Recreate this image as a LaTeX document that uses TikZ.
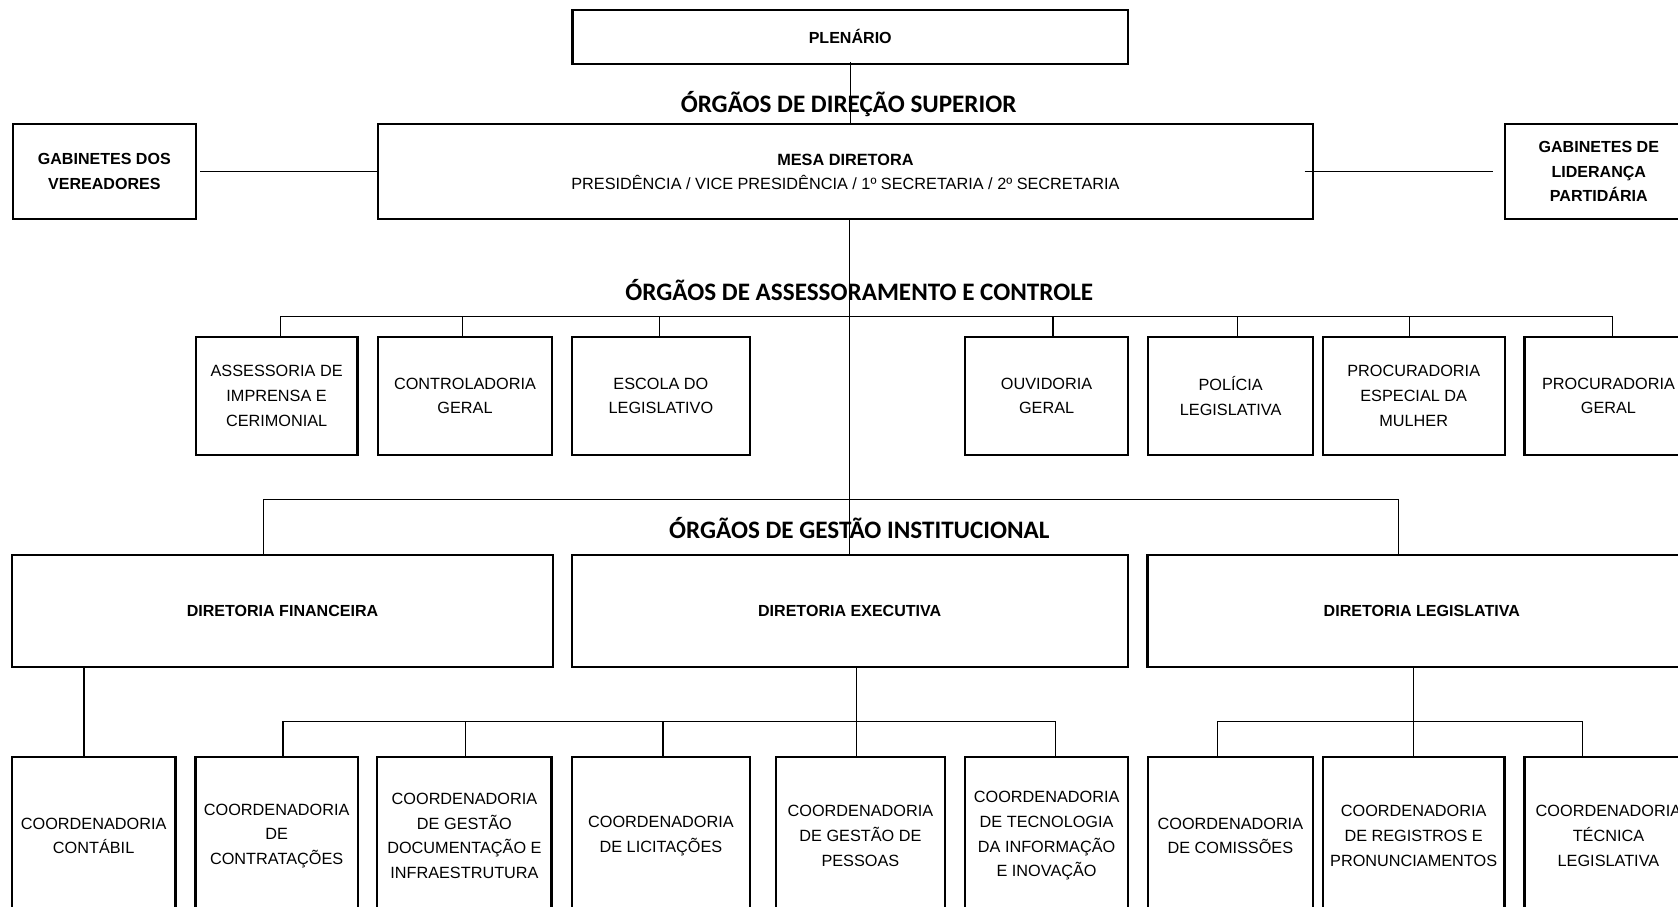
\documentclass[tikz,border=0pt]{standalone}
\usepackage{fontspec}
\setmainfont{Liberation Sans}
\newfontfamily\headfont{Carlito}

\begin{document}
\begin{tikzpicture}[x=1pt,y=-1pt,
    unit/.style={draw,line width=2pt,align=center,inner sep=0pt,font=\fontsize{15.2}{23}\selectfont},
    boss/.style={unit,font=\fontsize{15}{23}\selectfont\bfseries},
    conn/.style={line width=1.1pt},
    heading/.style={inner sep=0pt,font=\fontsize{23.5}{26}\selectfont\headfont\bfseries}]
    \useasboundingbox (0,0) rectangle (1568,847);
    \clip (0,0) rectangle (1568,847);

    % Top
    \node[boss,minimum width=519,minimum height=51] (plen) at (794.5,34.5) {PLEN\'ARIO};
    \node[heading] (hdir) at (793,97) {ÓRGÃOS DE DIREÇÃO SUPERIOR};
    \node[unit,minimum width=874,minimum height=89] (mesa) at (790,160.5)
        {{\bfseries MESA DIRETORA}\\PRESIDÊNCIA / VICE PRESIDÊNCIA / 1º SECRETARIA / 2º SECRETARIA};
    \node[boss,minimum width=171,minimum height=89] (gabv) at (97.5,160.5) {GABINETES DOS\\VEREADORES};
    \node[boss,minimum width=176,minimum height=89] (gabl) at (1494,160.5) {GABINETES DE\\LIDERANÇA\\PARTIDÁRIA};

    % Assessoramento
    \node[heading] (hass) at (803,271) {ÓRGÃOS DE ASSESSORAMENTO E CONTROLE};
    \node[unit,minimum width=151,minimum height=110] (asim) at (258.5,370) {ASSESSORIA DE\\IMPRENSA E\\CERIMONIAL};
    \node[unit,minimum width=163,minimum height=110] (ctrl) at (434.5,370) {CONTROLADORIA\\GERAL};
    \node[unit,minimum width=166,minimum height=110] (escola) at (617.6,370) {ESCOLA DO\\LEGISLATIVO};
    \node[unit,minimum width=152,minimum height=110] (ouvg) at (978,370) {OUVIDORIA\\GERAL};
    \node[unit,minimum width=154,minimum height=110] (policia) at (1150,370) {POLÍCIA\\LEGISLATIVA};
    \node[unit,minimum width=170,minimum height=110] (procm) at (1321,370) {PROCURADORIA\\ESPECIAL DA\\MULHER};
    \node[unit,minimum width=157,minimum height=110] (procg) at (1503,370) {PROCURADORIA\\GERAL};

    % Gestao institucional
    \node[heading] (hges) at (803,493) {ÓRGÃOS DE GESTÃO INSTITUCIONAL};
    \node[boss,minimum width=505.5,minimum height=104] (dfin) at (264,571) {DIRETORIA FINANCEIRA};
    \node[boss,minimum width=519.5,minimum height=104] (dexe) at (794,571) {DIRETORIA EXECUTIVA};
    \node[boss,minimum width=512.6,minimum height=104] (dleg) at (1328.6,571) {DIRETORIA LEGISLATIVA};

    % Coordenadorias
    \node[unit,minimum width=153,minimum height=148] (cont) at (87.5,781) {COORDENADORIA\\CONTÁBIL};
    \node[unit,minimum width=151.6,minimum height=148] (contr) at (258.5,781) {COORDENADORIA\\DE\\CONTRATAÇÕES};
    \node[unit,minimum width=162.7,minimum height=148] (gdoc) at (434,781) {COORDENADORIA\\DE GESTÃO\\DOCUMENTAÇÃO E\\INFRAESTRUTURA};
    \node[unit,minimum width=166,minimum height=148] (licit) at (617.6,781) {COORDENADORIA\\DE LICITAÇÕES};
    \node[unit,minimum width=158,minimum height=148] (gpes) at (804,781) {COORDENADORIA\\DE GESTÃO DE\\PESSOAS};
    \node[unit,minimum width=152,minimum height=148] (tec) at (978,781) {COORDENADORIA\\DE TECNOLOGIA\\DA INFORMAÇÃO\\E INOVAÇÃO};
    \node[unit,minimum width=154.7,minimum height=148] (comis) at (1149.7,781) {COORDENADORIA\\DE COMISSÕES};
    \node[unit,minimum width=169.6,minimum height=148] (regis) at (1321,781) {COORDENADORIA\\DE REGISTROS E\\PRONUNCIAMENTOS};
    \node[unit,minimum width=157,minimum height=148] (tecl) at (1503,781) {COORDENADORIA\\TÉCNICA\\LEGISLATIVA};

    % Bus levels
    \coordinate (busA) at (0,296);
    \coordinate (busG) at (0,467);
    \coordinate (busC) at (0,674);

    % Trunk and side links
    \draw[conn] ([yshift=3pt]plen.south) -- (plen.south |- mesa.north);
    \draw[conn] (dexe.north |- mesa.south) -- (dexe.north);
    \draw[conn] ([xshift=3pt]gabv.east) -- (mesa.west);
    \draw[conn] ([xshift=-9pt]mesa.east) -- ([xshift=-10pt]gabl.west);

    % Assessoramento bus
    \coordinate (aa) at ([xshift=3.5pt]asim.north);
    \coordinate (ag) at ([xshift=4pt]procg.north);
    \draw[conn] (aa) -- (aa |- busA) -- (ag |- busA) -- (ag);
    \foreach \n/\d in {ctrl/-2.5,escola/-1.5,ouvg/6,policia/6,procm/-4}
        \draw[conn] ([xshift=\d pt]\n.north) -- ([xshift=\d pt]\n.north |- busA);

    % Gestao bus
    \coordinate (gf) at ([xshift=-18pt]dfin.north);
    \coordinate (gl) at ([xshift=-22pt]dleg.north);
    \draw[conn] (gf) -- (gf |- busG) -- (gl |- busG) -- (gl);

    % Financeira
    \coordinate (cf) at ([xshift=-9pt]cont.north);
    \draw[conn] (cf |- dfin.south) -- (cf);

    % Executiva
    \coordinate (ep) at ([xshift=-3.5pt]gpes.north);
    \coordinate (ec) at ([xshift=6pt]contr.north);
    \coordinate (et) at ([xshift=8pt]tec.north);
    \draw[conn] (ep |- dexe.south) -- (ep);
    \draw[conn] (ec) -- (ec |- busC) -- (et |- busC) -- (et);
    \foreach \n/\d in {gdoc/1,licit/2}
        \draw[conn] ([xshift=\d pt]\n.north) -- ([xshift=\d pt]\n.north |- busC);

    % Legislativa
    \coordinate (lc) at ([xshift=-12pt]comis.north);
    \coordinate (lt) at ([xshift=-24pt]tecl.north);
    \draw[conn] (regis.north |- dleg.south) -- (regis.north);
    \draw[conn] (lc) -- (lc |- busC) -- (lt |- busC) -- (lt);
\end{tikzpicture}
\end{document}
